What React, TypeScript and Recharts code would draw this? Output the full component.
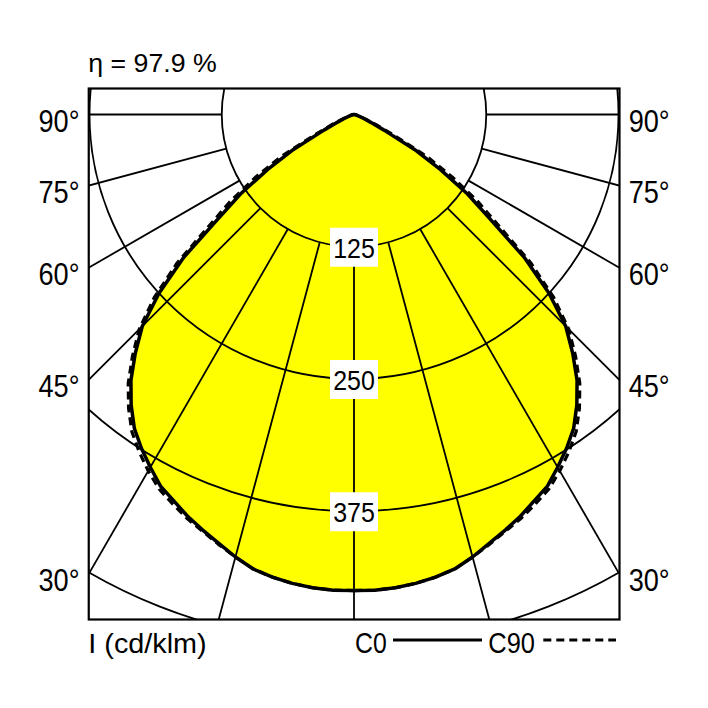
import React from 'react';
import { RadarChart, Radar, PolarGrid, PolarAngleAxis, PolarRadiusAxis } from 'recharts';

// ---- data ----
const gammaAngles = [0, 2.5, 5, 7.5, 10, 12.5, 15, 17.5, 20, 22.5, 25, 27.5, 30, 32.5, 35, 37.5, 40, 42.5, 45, 47.5, 50, 52.5, 55, 57.5, 60, 62.5, 65, 67.5, 70, 75, 80, 85, 90];
const c0Values = [450, 450, 449, 447, 444, 440, 433, 425, 418, 411, 403, 396, 385, 374, 362, 346, 328, 306, 283, 250, 210, 162, 131, 97, 66, 32, 17, 10, 6, 3, 1.5, 0.5, 0];
const c90Values = [450, 450, 449, 447, 444, 440, 433, 426, 419, 413, 406, 399, 389, 378, 366, 350, 332, 310, 287, 256, 218, 172, 142, 110, 80, 43, 24, 14, 8, 4, 2, 1, 0];

const gridAngleTicks = [0, 15, 30, 45, 60, 75, 90, 105, 120, 135, 150, 165, 180, 195, 210, 225, 240, 255, 270, 285, 300, 315, 330, 345];
const radiusTicks = [125, 250, 375, 500];
const radiusLabelValues = [125, 250, 375];
const angleLabelValues = [90, 75, 60, 45, 30];

const titleText = 'η = 97.9 %';
const unitText = 'I (cd/klm)';
const legendC0 = 'C0';
const legendC90 = 'C90';

// table for the polar chart: v = position on a 0..360 circle (0 = nadir, 90 = right, 270 = left)
const rightRows = gammaAngles.map((g, i) => ({ v: g, c0: c0Values[i], c90: c90Values[i] }));
const leftRows = gammaAngles
  .map((g, i) => ({ v: 360 - g, c0: c0Values[i], c90: c90Values[i], g }))
  .filter((r) => r.g > 0 && r.g < 180)
  .reverse()
  .map(({ v, c0, c90 }) => ({ v, c0, c90 }));
const table = [...rightRows, ...leftRows];

// ---- layout ----
const FONT = "'Liberation Sans', Arial, sans-serif";
const PLOT_LEFT = 81;
const PLOT_TOP = 81;
const PLOT_SIZE = 530;
const CX = 265;
const CY = 25.5;
const R_MAX = 529;
const R_DOMAIN_MAX = 500;
const R_INNER = (R_MAX * radiusTicks[0]) / R_DOMAIN_MAX;
const START_ANGLE = -90;
const END_ANGLE = 270;
const MARGIN = { top: 0, right: 0, bottom: 0, left: 0 };

const CENTER_X = PLOT_LEFT + CX;
const CENTER_Y = PLOT_TOP + CY;
const FRAME = { x: 80.75, y: 80.5, w: 530.75, h: 531 };
const HALF_W = CENTER_X - FRAME.x;

// grid positions derived from the tick lists (same mapping as the charts' axes)
const gridPolarAngles = gridAngleTicks.map((v) => START_ANGLE + (v / 360) * (END_ANGLE - START_ANGLE));
const gridPolarRadii = radiusTicks.map((t) => (t / R_DOMAIN_MAX) * R_MAX);

const RadiusTick = (props: any) => {
  const { x, y, payload } = props;
  if (!radiusLabelValues.includes(payload.value)) return <g />;
  return (
    <g>
      <rect x={x - 24} y={y - 19} width={48} height={39} fill="#ffffff" />
      <text
        x={x - 20.85}
        y={y + 11}
        fontFamily={FONT}
        fontSize={28}
        fill="#000"
        textLength={41.7}
        lengthAdjust="spacingAndGlyphs"
      >
        {String(payload.value)}
      </text>
    </g>
  );
};

const commonChart = {
  width: PLOT_SIZE,
  height: PLOT_SIZE,
  data: table,
  cx: CX,
  cy: CY,
  outerRadius: R_MAX,
  startAngle: START_ANGLE,
  endAngle: END_ANGLE,
  margin: MARGIN,
};

const plotBox: React.CSSProperties = {
  position: 'absolute',
  left: PLOT_LEFT,
  top: PLOT_TOP,
  width: PLOT_SIZE,
  height: PLOT_SIZE,
  overflow: 'hidden',
};

export default function App() {
  const angleLabelY = (g: number) => {
    const rad = (g * Math.PI) / 180;
    return CENTER_Y + (HALF_W * Math.cos(rad)) / Math.sin(rad) + 17;
  };
  return (
    <div style={{ position: 'relative', width: 700, height: 700, background: '#fff' }}>
      {/* yellow fill of C0 */}
      <div style={plotBox}>
        <RadarChart {...commonChart} innerRadius={0}>
          <PolarAngleAxis dataKey="v" type="number" domain={[0, 360]} tick={false} axisLine={false} tickLine={false} />
          <PolarRadiusAxis type="number" domain={[0, R_DOMAIN_MAX]} tick={false} axisLine={false} tickLine={false} />
          <Radar dataKey="c0" fill="#ffff00" fillOpacity={1} stroke="none" isAnimationActive={false} />
        </RadarChart>
      </div>
      {/* grid, radial lines start at the 125 circle */}
      <div style={plotBox}>
        <RadarChart {...commonChart} innerRadius={R_INNER}>
          <PolarAngleAxis dataKey="v" type="number" domain={[0, 360]} tick={false} axisLine={false} tickLine={false} />
          <PolarRadiusAxis type="number" domain={[0, R_DOMAIN_MAX]} tick={false} axisLine={false} tickLine={false} />
          <Radar dataKey="c0" fill="none" fillOpacity={0} stroke="none" isAnimationActive={false} />
          <PolarGrid
            gridType="circle"
            stroke="#000"
            strokeWidth={1.8}
            polarAngles={gridPolarAngles}
            polarRadius={gridPolarRadii}
          />
        </RadarChart>
      </div>
      {/* curve outlines and intensity labels */}
      <div style={plotBox}>
        <RadarChart {...commonChart} innerRadius={0}>
          <PolarAngleAxis dataKey="v" type="number" domain={[0, 360]} tick={false} axisLine={false} tickLine={false} />
          <Radar
            dataKey="c90"
            fill="none"
            fillOpacity={0}
            stroke="#000"
            strokeWidth={3.2}
            strokeDasharray="8 5"
            strokeLinejoin="round"
            isAnimationActive={false}
          />
          <Radar
            dataKey="c0"
            fill="none"
            fillOpacity={0}
            stroke="#000"
            strokeWidth={3.5}
            strokeLinejoin="round"
            isAnimationActive={false}
          />
          <PolarRadiusAxis
            type="number"
            angle={-90}
            domain={[0, R_DOMAIN_MAX]}
            ticks={radiusTicks}
            axisLine={false}
            tickLine={false}
            tick={RadiusTick}
          />
        </RadarChart>
      </div>
      {/* frame, angle labels, title and legend */}
      <svg
        width={700}
        height={700}
        style={{ position: 'absolute', left: 0, top: 0, pointerEvents: 'none' }}
      >
        <rect x={FRAME.x} y={FRAME.y} width={FRAME.w} height={FRAME.h} fill="none" stroke="#000" strokeWidth={2.2} />
        <text x={80.3} y={64} fontFamily={FONT} fontSize={25} fill="#000" textLength={128.4} lengthAdjust="spacingAndGlyphs">
          {titleText}
        </text>
        {angleLabelValues.map((g) => (
          <g key={g}>
            <text x={30.5} y={angleLabelY(g)} fontFamily={FONT} fontSize={32} fill="#000" textLength={41} lengthAdjust="spacingAndGlyphs">
              {`${g}°`}
            </text>
            <text x={620.7} y={angleLabelY(g)} fontFamily={FONT} fontSize={32} fill="#000" textLength={41} lengthAdjust="spacingAndGlyphs">
              {`${g}°`}
            </text>
          </g>
        ))}
        <text x={80.3} y={645} fontFamily={FONT} fontSize={28} fill="#000" textLength={118.4} lengthAdjust="spacingAndGlyphs">
          {unitText}
        </text>
        <text x={347} y={645} fontFamily={FONT} fontSize={29} fill="#000" textLength={31.7} lengthAdjust="spacingAndGlyphs">
          {legendC0}
        </text>
        <line x1={385} y1={632} x2={474} y2={632} stroke="#000" strokeWidth={3} />
        <text x={480.3} y={645} fontFamily={FONT} fontSize={29} fill="#000" textLength={46.7} lengthAdjust="spacingAndGlyphs">
          {legendC90}
        </text>
        <line x1={535.3} y1={632} x2={608} y2={632} stroke="#000" strokeWidth={3} strokeDasharray="8 5" />
      </svg>
    </div>
  );
}
